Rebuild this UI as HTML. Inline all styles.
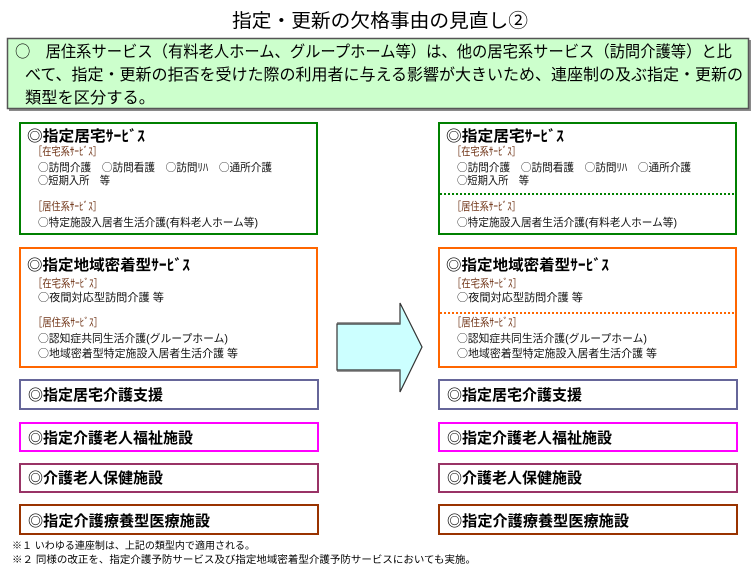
<!DOCTYPE html>
<html><head><meta charset="utf-8"><style>
html,body{margin:0;padding:0;background:#fff;}
svg{display:block;}
text{font-family:"Liberation Sans","Noto Sans CJK JP",sans-serif;}
.c{font-family:"Noto Sans CJK JP","Liberation Sans",sans-serif;}
.t{font-size:15px;font-weight:bold;fill:#000;}
.h{font-size:11px;fill:#6e3214;}
.i{font-size:11px;fill:#111;}
</style></head><body>
<svg width="756" height="567" viewBox="0 0 756 567" xmlns="http://www.w3.org/2000/svg">
<rect width="756" height="567" fill="#fff"/>
<text x="232" y="27" font-size="19" textLength="296" lengthAdjust="spacingAndGlyphs">指定・更新の欠格事由の見直し②</text>

<rect x="9" y="40" width="742" height="71" fill="#8a8a8a"/>
<rect x="7.5" y="38.5" width="741" height="70" fill="#ccffcc" stroke="#555" stroke-width="1.5"/>
<text x="15" y="57" font-size="16" textLength="717" lengthAdjust="spacingAndGlyphs"><tspan class="c">○</tspan>　居住系サービス（有料老人ホーム、グループホーム等）は、他の居宅系サービス（訪問介護等）と比</text>
<text x="25" y="80" font-size="16" textLength="718" lengthAdjust="spacingAndGlyphs">べて、指定・更新の拒否を受けた際の利用者に与える影響が大きいため、連座制の及ぶ指定・更新の</text>
<text x="25" y="103" font-size="16" textLength="130" lengthAdjust="spacingAndGlyphs">類型を区分する。</text>

<g id="left">
<rect x="20" y="123" width="297" height="111" fill="#fff" stroke="#008000" stroke-width="2"/>
<text class="t" x="27" y="141" textLength="118" lengthAdjust="spacingAndGlyphs"><tspan class="c">◎</tspan>指定居宅ｻｰﾋﾞｽ</text>
<text class="h" x="33" y="155" textLength="69" lengthAdjust="spacingAndGlyphs">［在宅系ｻｰﾋﾞｽ］</text>
<text class="i" x="38" y="171" textLength="234" lengthAdjust="spacingAndGlyphs"><tspan class="c">○</tspan>訪問介護　<tspan class="c">○</tspan>訪問看護　<tspan class="c">○</tspan>訪問ﾘﾊ　<tspan class="c">○</tspan>通所介護</text>
<text class="i" x="38" y="184" textLength="72" lengthAdjust="spacingAndGlyphs"><tspan class="c">○</tspan>短期入所　等</text>
<text class="h" x="33" y="210" textLength="69" lengthAdjust="spacingAndGlyphs">［居住系ｻｰﾋﾞｽ］</text>
<text class="i" x="38" y="226" textLength="220" lengthAdjust="spacingAndGlyphs"><tspan class="c">○</tspan>特定施設入居者生活介護(有料老人ホーム等)</text>

<rect x="20" y="248" width="297" height="119" fill="#fff" stroke="#ff6600" stroke-width="2"/>
<text class="t" x="27" y="270" textLength="163" lengthAdjust="spacingAndGlyphs"><tspan class="c">◎</tspan>指定地域密着型ｻｰﾋﾞｽ</text>
<text class="h" x="33" y="287" textLength="70" lengthAdjust="spacingAndGlyphs">［在宅系ｻｰﾋﾞｽ］</text>
<text class="i" x="38" y="301" textLength="126" lengthAdjust="spacingAndGlyphs"><tspan class="c">○</tspan>夜間対応型訪問介護 等</text>
<text class="h" x="33" y="326" textLength="70" lengthAdjust="spacingAndGlyphs">［居住系ｻｰﾋﾞｽ］</text>
<text class="i" x="38" y="342" textLength="190" lengthAdjust="spacingAndGlyphs"><tspan class="c">○</tspan>認知症共同生活介護(グループホーム)</text>
<text class="i" x="38" y="357" textLength="200" lengthAdjust="spacingAndGlyphs"><tspan class="c">○</tspan>地域密着型特定施設入居者生活介護 等</text>

<rect x="20" y="380" width="298" height="29" fill="#fff" stroke="#666699" stroke-width="2"/>
<text class="t" x="28" y="400" textLength="135" lengthAdjust="spacingAndGlyphs"><tspan class="c">◎</tspan>指定居宅介護支援</text>
<rect x="20" y="423" width="298" height="28" fill="#fff" stroke="#ff00ff" stroke-width="2"/>
<text class="t" x="28" y="443" textLength="165" lengthAdjust="spacingAndGlyphs"><tspan class="c">◎</tspan>指定介護老人福祉施設</text>
<rect x="20" y="464" width="298" height="28" fill="#fff" stroke="#993366" stroke-width="2"/>
<text class="t" x="28" y="483" textLength="135" lengthAdjust="spacingAndGlyphs"><tspan class="c">◎</tspan>介護老人保健施設</text>
<rect x="20" y="505" width="298" height="29" fill="#fff" stroke="#993300" stroke-width="2"/>
<text class="t" x="28" y="526" textLength="182" lengthAdjust="spacingAndGlyphs"><tspan class="c">◎</tspan>指定介護療養型医療施設</text>
</g>

<use href="#left" transform="translate(419,0)"/>
<line x1="440" y1="194" x2="737" y2="194" stroke="#008000" stroke-width="2" stroke-dasharray="2,2"/>
<line x1="440" y1="313" x2="737" y2="313" stroke="#ff6600" stroke-width="2" stroke-dasharray="2,2"/>

<polygon points="337,324 400,324 400,303 422,347 400,392 400,370 337,370" fill="#ccffff" stroke="#333" stroke-width="1.2"/>
<line x1="337" y1="323" x2="400" y2="323" stroke="#777" stroke-width="1.5"/>
<line x1="337" y1="371" x2="400" y2="371" stroke="#777" stroke-width="1.5"/>

<text x="12" y="549" font-size="10" textLength="243" lengthAdjust="spacingAndGlyphs">※１ いわゆる連座制は、上記の類型内で適用される。</text>
<text x="12" y="563" font-size="10" textLength="464" lengthAdjust="spacingAndGlyphs">※２ 同様の改正を、指定介護予防サービス及び指定地域密着型介護予防サービスにおいても実施。</text>
</svg>
</body></html>
